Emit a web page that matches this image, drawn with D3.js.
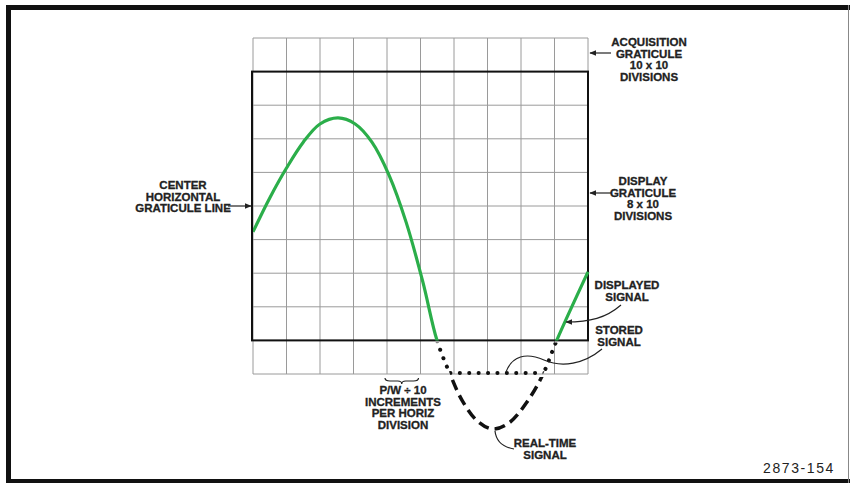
<!DOCTYPE html>
<html>
<head>
<meta charset="utf-8">
<script src="https://cdn.jsdelivr.net/npm/d3@7"></script>
<style>
  body { margin: 0; background: #fff; }
  svg { display: block; }
  text { font-family: "Liberation Sans", Arial, sans-serif; font-weight: bold; fill: #222; stroke: #222; stroke-width: 0.3; }
</style>
</head>
<body>
<div id="chart"></div>
<script>
// graticule divisions (acquisition 10 x 10, display 8 x 10)
var divsX = d3.range(0, 11);
var divsY = d3.range(-5, 6);
var displayY = [-4, 4];

// real-time signal, in divisions (x: 0..10, y: center line = 0)
var sigX = [0, 0.5, 1.0, 1.5, 2.0, 2.54, 3.05, 3.55, 4.06, 4.57, 5.07, 5.49, 5.88, 6.25, 6.7, 7.16, 7.65, 8.2, 8.66, 9.07, 10];
var sigY = [-0.77, 0.24, 1.13, 1.9, 2.44, 2.62, 2.44, 1.9, 0.92, -0.48, -2.26, -3.99, -5.0, -5.8, -6.4, -6.64, -6.45, -5.8, -5.0, -3.99, -1.96];

var W = 850, H = 483;
var svg = d3.select("#chart").append("svg").attr("width", W).attr("height", H);

// frame
svg.append("rect").attr("x", 0).attr("y", 0).attr("width", W).attr("height", H).attr("fill", "#fff");
svg.append("line").attr("x1", 6).attr("x2", W).attr("y1", 7.5).attr("y2", 7.5).attr("stroke", "#111").attr("stroke-width", 5);
svg.append("line").attr("x1", 8.5).attr("x2", 8.5).attr("y1", 5).attr("y2", 483).attr("stroke", "#111").attr("stroke-width", 5);
svg.append("line").attr("x1", 6).attr("x2", W).attr("y1", 481).attr("y2", 481).attr("stroke", "#111").attr("stroke-width", 4);
svg.append("line").attr("x1", 848.5).attr("x2", 848.5).attr("y1", 5).attr("y2", 483).attr("stroke", "#888").attr("stroke-width", 1);

var x = d3.scaleLinear().domain([0, 10]).range([253, 588]);
var y = d3.scaleLinear().domain([-5, 5]).range([374, 38]);

var defs = svg.append("defs");
defs.append("marker").attr("id", "arrow").attr("viewBox", "0 0 10 10")
  .attr("refX", 9).attr("refY", 5).attr("markerWidth", 7).attr("markerHeight", 7)
  .attr("markerUnits", "userSpaceOnUse").attr("orient", "auto")
  .append("path").attr("d", "M0,1 L10,5 L0,9 Z").attr("fill", "#222");

// grid
var grid = svg.append("g");
grid.selectAll(".vx").data(divsX).enter().append("line")
  .attr("x1", function(d) { return x(d); }).attr("x2", function(d) { return x(d); })
  .attr("y1", y(5)).attr("y2", y(-5))
  .attr("stroke", "#9a9a9a").attr("stroke-width", 1);
grid.selectAll(".hy").data(divsY).enter().append("line")
  .attr("y1", function(d) { return y(d); }).attr("y2", function(d) { return y(d); })
  .attr("x1", x(0)).attr("x2", x(10))
  .attr("stroke", "#9a9a9a").attr("stroke-width", 1);

// display graticule box
svg.append("rect")
  .attr("x", x(0) - 1).attr("y", y(displayY[1]))
  .attr("width", x(10) - x(0) + 1).attr("height", y(displayY[0]) - y(displayY[1]))
  .attr("fill", "none").attr("stroke", "#111").attr("stroke-width", 2);

var pts = sigX.map(function(d, i) { return [d, sigY[i]]; });
var line = d3.line()
  .x(function(d) { return x(d[0]); })
  .y(function(d) { return y(d[1]); })
  .curve(d3.curveCatmullRom.alpha(0.5));
var area = d3.area()
  .x(function(d) { return x(d[0]); })
  .y0(0)
  .y1(function(d) { return y(d[1]); })
  .curve(d3.curveCatmullRom.alpha(0.5));

defs.append("clipPath").attr("id", "clipDisplay").append("rect")
  .attr("x", x(0)).attr("y", y(displayY[1])).attr("width", x(10) - x(0) + 2)
  .attr("height", y(displayY[0]) - y(displayY[1]));
defs.append("clipPath").attr("id", "clipBelow").append("rect")
  .attr("x", 0).attr("y", y(-5) + 3).attr("width", W).attr("height", H);
defs.append("clipPath").attr("id", "clipStored").append("rect")
  .attr("x", 0).attr("y", y(displayY[0]) + 2).attr("width", W).attr("height", y(-5) - y(displayY[0]) - 3);
defs.append("clipPath").attr("id", "clipUnder").append("path").attr("d", area(pts));

// real-time signal (dashed, outside acquisition window)
svg.append("path").attr("d", line(pts)).attr("clip-path", "url(#clipBelow)")
  .attr("fill", "none").attr("stroke", "#111").attr("stroke-width", 3.5)
  .attr("stroke-dasharray", "11 6");

// stored signal (dotted)
svg.append("path").attr("d", line(pts)).attr("clip-path", "url(#clipStored)")
  .attr("fill", "none").attr("stroke", "#111").attr("stroke-width", 4)
  .attr("stroke-linecap", "round").attr("stroke-dasharray", "0.1 9");
svg.append("line").attr("clip-path", "url(#clipUnder)")
  .attr("x1", x(0)).attr("x2", x(10)).attr("y1", y(-5) - 1).attr("y2", y(-5) - 1)
  .attr("stroke", "#111").attr("stroke-width", 4)
  .attr("stroke-linecap", "round").attr("stroke-dasharray", "0.1 9.3");

// displayed signal (green)
svg.append("path").attr("d", line(pts)).attr("clip-path", "url(#clipDisplay)")
  .attr("fill", "none").attr("stroke", "#2bae4a").attr("stroke-width", 3.2);

// annotations
function label(lines, cx, y0, dy, anchor) {
  var t = svg.append("text").attr("text-anchor", anchor || "middle").attr("font-size", 11.5);
  lines.forEach(function(s, i) {
    t.append("tspan").attr("x", cx).attr("y", y0 + i * dy).text(s);
  });
  return t;
}
function arrow(d) {
  svg.append("path").attr("d", d).attr("fill", "none").attr("stroke", "#222")
    .attr("stroke-width", 1.2).attr("marker-end", "url(#arrow)");
}

label(["ACQUISITION", "GRATICULE", "10 x 10", "DIVISIONS"], 649, 46, 11.6);
arrow("M611,53 L590,53");

label(["DISPLAY", "GRATICULE", "8 x 10", "DIVISIONS"], 643, 185, 11.6);
arrow("M611,193 L590,193");

label(["CENTER", "HORIZONTAL", "GRATICULE LINE"], 183, 189, 11.6);
arrow("M228,206 L251,206");

label(["DISPLAYED", "SIGNAL"], 627, 289, 11.6);
arrow("M621,305 C606,318 590,322 566,322");

label(["STORED", "SIGNAL"], 619, 334, 11.6);
svg.append("path").attr("d", "M506,372 C512,356 526,352 544,360 C562,368 584,364 602,349")
  .attr("fill", "none").attr("stroke", "#222").attr("stroke-width", 1.2);

label(["REAL-TIME", "SIGNAL"], 545, 447, 11.6);
svg.append("path").attr("d", "M495,431 C496,440 502,447 514,449")
  .attr("fill", "none").attr("stroke", "#222").attr("stroke-width", 1.2);

label(["P/W \u00f7 10", "INCREMENTS", "PER HORIZ", "DIVISION"], 403, 394, 11.6);
// brace under one horizontal division
var bx0 = x(4) - 2, bx1 = x(5) - 2, bm = (bx0 + bx1) / 2, by = 378;
svg.append("path")
  .attr("d", "M" + bx0 + "," + by + " Q" + bx0 + "," + (by + 3) + " " + (bx0 + 5) + "," + (by + 3) +
    " L" + (bm - 4) + "," + (by + 3) + " Q" + bm + "," + (by + 3) + " " + bm + "," + (by + 6) +
    " Q" + bm + "," + (by + 3) + " " + (bm + 4) + "," + (by + 3) +
    " L" + (bx1 - 5) + "," + (by + 3) + " Q" + bx1 + "," + (by + 3) + " " + bx1 + "," + by)
  .attr("fill", "none").attr("stroke", "#222").attr("stroke-width", 1.2);

svg.append("text").attr("x", 835).attr("y", 473).attr("text-anchor", "end")
  .attr("font-size", 14).attr("letter-spacing", 1.6)
  .style("font-weight", "normal").style("stroke-width", 0).text("2873-154");
</script>
</body>
</html>
